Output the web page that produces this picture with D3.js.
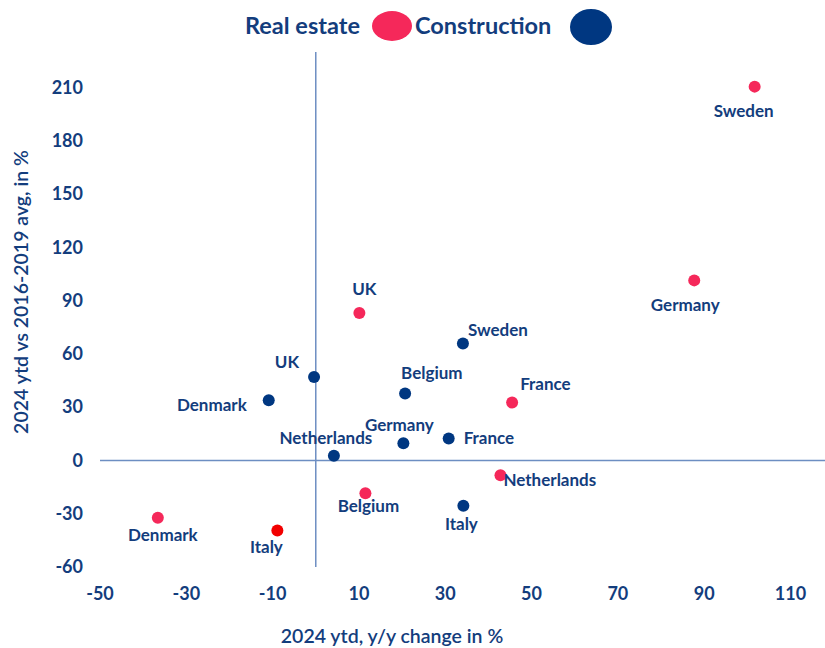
<!DOCTYPE html>
<html>
<head>
<meta charset="utf-8">
<script src="https://cdn.jsdelivr.net/npm/d3@7"></script>
<style>
  body { margin: 0; background: #fff; }
  svg text { font-family: Lato, "Noto Sans", sans-serif; fill: #133d7d; }
</style>
</head>
<body>
<div id="chart"></div>
<script>
// data
var countries = ["Sweden", "Germany", "UK", "France", "Netherlands", "Belgium", "Denmark", "Italy"];
var realEstateX = [101.7, 87.7, 10.1, 45.5, 42.8, 11.5, -36.6, -8.9];
var realEstateY = [210.5, 101.4, 83.0, 32.6, -8.3, -18.5, -32.3, -39.4];
var constructionX = [34.1, 20.3, -0.4, 30.8, 4.2, 20.7, -10.9, 34.2];
var constructionY = [65.8, 9.7, 47.0, 12.4, 2.6, 37.7, 33.9, -25.5];
var xTicks = [-50, -30, -10, 10, 30, 50, 70, 90, 110];
var yTicks = [-60, -30, 0, 30, 60, 90, 120, 150, 180, 210];

var width = 825, height = 648;
var pink = "#f5285a", navy = "#003781", red = "#f20000";

// where each label sits relative to its dot: [dx, dy, anchor]
var labelPos = {
  re: {
    Sweden: [-11, 24, "middle"], Germany: [-9, 25, "middle"], UK: [5, -24, "middle"],
    France: [8, -19, "start"], Netherlands: [3, 5, "start"], Belgium: [3, 13, "middle"],
    Denmark: [5, 17, "middle"], Italy: [-11, 17, "middle"]
  },
  c: {
    Sweden: [5, -14, "start"], Germany: [-4, -18, "middle"], UK: [-15, -15, "end"],
    France: [15, 0, "start"], Netherlands: [-8, -18, "middle"], Belgium: [-4, -20, "start"],
    Denmark: [-22, 5, "end"], Italy: [-2, 18, "middle"]
  }
};

var svg = d3.select("#chart").append("svg")
  .attr("width", width)
  .attr("height", height);

var x = d3.scaleLinear().domain([-50, 118]).range([100, 825]);
var y = d3.scaleLinear().domain([-60, 230]).range([567, 52]);

// zero lines
svg.append("line")
  .attr("x1", x(-50)).attr("x2", x(118))
  .attr("y1", y(0)).attr("y2", y(0))
  .attr("stroke", "#6d8ec2").attr("stroke-width", 1.5);
svg.append("line")
  .attr("x1", x(0)).attr("x2", x(0))
  .attr("y1", y(230)).attr("y2", y(-60))
  .attr("stroke", "#6d8ec2").attr("stroke-width", 1.5);

// tick labels
svg.append("g").selectAll("text")
  .data(xTicks).enter().append("text")
  .attr("x", function (d) { return x(d); })
  .attr("y", 600)
  .attr("text-anchor", "middle")
  .style("font-size", "18px").style("font-weight", 700)
  .text(function (d) { return d; });

svg.append("g").selectAll("text")
  .data(yTicks).enter().append("text")
  .attr("x", 83)
  .attr("y", function (d) { return y(d); })
  .attr("dy", "0.35em")
  .attr("text-anchor", "end")
  .style("font-size", "18px").style("font-weight", 700)
  .text(function (d) { return d; });

// axis titles
svg.append("text")
  .attr("x", 392).attr("y", 643)
  .attr("text-anchor", "middle")
  .style("font-size", "19.5px").style("font-weight", 600)
  .text("2024 ytd, y/y change in %");

svg.append("text")
  .attr("transform", "translate(28,292) rotate(-90)")
  .attr("text-anchor", "middle")
  .style("font-size", "19.5px").style("font-weight", 600)
  .text("2024 ytd vs 2016-2019 avg, in %");

// legend
svg.append("text").attr("x", 245).attr("y", 34)
  .style("font-size", "23.5px").style("font-weight", 700).text("Real estate");
svg.append("ellipse").attr("cx", 392).attr("cy", 26).attr("rx", 20).attr("ry", 15).attr("fill", pink);
svg.append("text").attr("x", 415).attr("y", 34)
  .style("font-size", "23.5px").style("font-weight", 700).text("Construction");
svg.append("ellipse").attr("cx", 591).attr("cy", 27).attr("rx", 21).attr("ry", 18).attr("fill", navy);

// build point tables
var realEstate = countries.map(function (c, i) {
  return { name: c, x: realEstateX[i], y: realEstateY[i], kind: "re" };
});
var construction = countries.map(function (c, i) {
  return { name: c, x: constructionX[i], y: constructionY[i], kind: "c" };
});
var all = construction.concat(realEstate);

svg.append("g").selectAll("circle")
  .data(all).enter().append("circle")
  .attr("cx", function (d) { return x(d.x); })
  .attr("cy", function (d) { return y(d.y); })
  .attr("r", 6)
  .attr("fill", function (d) {
    if (d.kind == "c") return navy;
    return d.name == "Italy" ? red : pink;
  });

svg.append("g").selectAll("text")
  .data(all).enter().append("text")
  .attr("x", function (d) { return x(d.x) + labelPos[d.kind][d.name][0]; })
  .attr("y", function (d) { return y(d.y) + labelPos[d.kind][d.name][1]; })
  .attr("dy", "0.35em")
  .attr("text-anchor", function (d) { return labelPos[d.kind][d.name][2]; })
  .style("font-size", "17px").style("font-weight", 700)
  .text(function (d) { return d.name; });
</script>
</body>
</html>
